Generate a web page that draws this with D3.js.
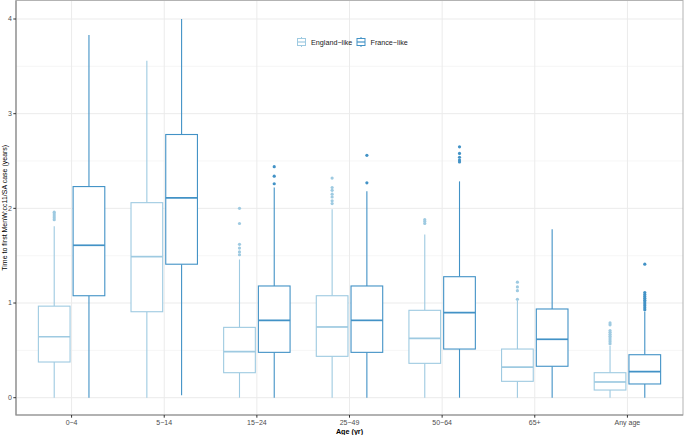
<!DOCTYPE html>
<html>
<head>
<meta charset="utf-8">
<script src="https://cdn.jsdelivr.net/npm/d3@7"></script>
<style>
  body { margin: 0; background: #fff; }
  text { font-family: "Liberation Sans", Arial, sans-serif; }
</style>
</head>
<body>
<div id="chart"></div>
<script>
const width = 685, height = 435

const ages = ["0\u22124", "5\u221214", "15\u221224", "25\u221249", "50\u221264", "65+", "Any age"]
const groups = ["England\u2212like", "France\u2212like"]
const yTicks = [0, 1, 2, 3, 4]

// England-like boxes (years)
const engLow = [0, 0, 0, 0, 0, 0, 0]
const engQ1 = [0.377, 0.908, 0.264, 0.437, 0.363, 0.173, 0.081]
const engMed = [0.644, 1.49, 0.486, 0.747, 0.627, 0.324, 0.166]
const engQ3 = [0.967, 2.06, 0.743, 1.077, 0.923, 0.514, 0.264]
const engHigh = [1.81, 3.56, 1.46, 1.99, 1.725, 1.03, 0.55]
const engOut = [
    [1.88, 1.90, 1.92, 1.94, 1.96],
    [],
    [1.51, 1.54, 1.58, 1.62, 1.84, 2.0],
    [2.05, 2.08, 2.12, 2.15, 2.19, 2.22, 2.32],
    [1.84, 1.86, 1.88],
    [1.04, 1.13, 1.17, 1.22],
    [0.57, 0.59, 0.61, 0.63, 0.65, 0.67, 0.69, 0.71, 0.77, 0.79]
]

// France-like boxes (years)
const fraLow = [0, 0.025, 0, 0, 0, 0, 0]
const fraQ1 = [1.077, 1.41, 0.479, 0.479, 0.514, 0.332, 0.145]
const fraMed = [1.61, 2.11, 0.817, 0.817, 0.898, 0.617, 0.275]
const fraQ3 = [2.23, 2.78, 1.18, 1.18, 1.278, 0.937, 0.454]
const fraHigh = [3.83, 4.0, 2.22, 2.18, 2.285, 1.778, 0.91]
const fraOut = [
    [],
    [],
    [2.26, 2.34, 2.44],
    [2.27, 2.56],
    [2.49, 2.51, 2.54, 2.58, 2.65],
    [],
    [0.93, 0.95, 0.97, 0.99, 1.01, 1.03, 1.05, 1.07, 1.09, 1.11, 1.41]
]

const colors = d3.scaleOrdinal().domain(groups).range(["#9ecae1", "#4292c6"])

const panel = {left: 16, right: 683, top: 0.5, bottom: 415}

const x = d3.scalePoint().domain(ages).range([panel.left, panel.right]).padding(0.6)
const step = x.step()
const dodge = d3.scaleBand().domain(groups).range([-0.375 * step, 0.375 * step])
const boxW = 0.342 * step

const y = d3.scaleLinear().domain([0, 4]).range([397.7, 19])

const svg = d3.select("#chart").append("svg")
    .attr("width", width)
    .attr("height", height)

// grid
const grid = svg.append("g")
grid.selectAll("line.minor")
    .data([0.5, 1.5, 2.5, 3.5])
    .join("line")
    .attr("x1", panel.left).attr("x2", panel.right)
    .attr("y1", d => y(d)).attr("y2", d => y(d))
    .attr("stroke", "#f0f0f0").attr("stroke-width", 0.6)
grid.selectAll("line.majory")
    .data(yTicks)
    .join("line")
    .attr("x1", panel.left).attr("x2", panel.right)
    .attr("y1", d => y(d)).attr("y2", d => y(d))
    .attr("stroke", "#ebebeb").attr("stroke-width", 1)
grid.append("g").selectAll("line")
    .data(ages)
    .join("line")
    .attr("x1", d => x(d)).attr("x2", d => x(d))
    .attr("y1", panel.top).attr("y2", panel.bottom)
    .attr("stroke", "#ebebeb").attr("stroke-width", 1)

// build the box table from the arrays
let boxes = []
ages.forEach((a, i) => {
    boxes.push({age: a, group: groups[0], low: engLow[i], q1: engQ1[i], med: engMed[i], q3: engQ3[i], high: engHigh[i], out: engOut[i]})
    boxes.push({age: a, group: groups[1], low: fraLow[i], q1: fraQ1[i], med: fraMed[i], q3: fraQ3[i], high: fraHigh[i], out: fraOut[i]})
})
const cx = d => x(d.age) + dodge(d.group) + dodge.bandwidth() / 2

const bg = svg.append("g").selectAll("g")
    .data(boxes)
    .join("g")
    .attr("stroke", d => colors(d.group))
    .attr("fill", "none")

bg.append("line")
    .attr("x1", cx).attr("x2", cx)
    .attr("y1", d => y(d.q3)).attr("y2", d => y(d.high))
    .attr("stroke-width", 1.1)
bg.append("line")
    .attr("x1", cx).attr("x2", cx)
    .attr("y1", d => y(d.q1)).attr("y2", d => y(d.low))
    .attr("stroke-width", 1.1)
bg.append("rect")
    .attr("x", d => cx(d) - boxW / 2)
    .attr("width", boxW)
    .attr("y", d => y(d.q3))
    .attr("height", d => y(d.q1) - y(d.q3))
    .attr("fill", "#fff")
    .attr("stroke-width", 1.1)
bg.append("line")
    .attr("x1", d => cx(d) - boxW / 2).attr("x2", d => cx(d) + boxW / 2)
    .attr("y1", d => y(d.med)).attr("y2", d => y(d.med))
    .attr("stroke-width", 1.7)
bg.selectAll("circle")
    .data(d => d.out.map(v => ({v: v, d: d})))
    .join("circle")
    .attr("cx", o => cx(o.d))
    .attr("cy", o => y(o.v))
    .attr("r", 1.6)
    .attr("stroke", "none")
    .attr("fill", o => colors(o.d.group))

// panel border + axis lines
svg.append("rect")
    .attr("x", panel.left).attr("y", panel.top)
    .attr("width", panel.right - panel.left).attr("height", panel.bottom - panel.top)
    .attr("fill", "none").attr("stroke", "#b3b3b3").attr("stroke-width", 1)
svg.append("path")
    .attr("d", `M${panel.left},${panel.top}V${panel.bottom}H${panel.right}`)
    .attr("fill", "none").attr("stroke", "#8c8c8c").attr("stroke-width", 1.2)

// axes
const yAxis = svg.append("g")
yAxis.selectAll("line")
    .data(yTicks)
    .join("line")
    .attr("x1", panel.left - 2.7).attr("x2", panel.left)
    .attr("y1", d => y(d)).attr("y2", d => y(d))
    .attr("stroke", "#333")
yAxis.selectAll("text")
    .data(yTicks)
    .join("text")
    .attr("x", panel.left - 4)
    .attr("y", d => y(d))
    .attr("dy", "0.35em")
    .attr("text-anchor", "end")
    .attr("font-size", 7)
    .attr("fill", "#4d4d4d")
    .text(d => d)

const xAxis = svg.append("g")
xAxis.selectAll("line")
    .data(ages)
    .join("line")
    .attr("x1", d => x(d)).attr("x2", d => x(d))
    .attr("y1", panel.bottom).attr("y2", panel.bottom + 2.7)
    .attr("stroke", "#333")
xAxis.selectAll("text")
    .data(ages)
    .join("text")
    .attr("x", d => x(d))
    .attr("y", 425.3)
    .attr("text-anchor", "middle")
    .attr("font-size", 7)
    .attr("fill", "#4d4d4d")
    .text(d => d)

svg.append("text")
    .attr("x", (panel.left + panel.right) / 2)
    .attr("y", 434)
    .attr("text-anchor", "middle")
    .attr("font-size", 7.2)
    .attr("font-weight", "bold")
    .text("Age (yr)")

svg.append("text")
    .attr("transform", `translate(6.5,${(panel.top + panel.bottom) / 2}) rotate(-90)`)
    .attr("text-anchor", "middle")
    .attr("font-size", 7)
    .text("Time to first MenW:cc11/SA case (years)")

// legend
const legX = [297.5, 357]
const leg = svg.append("g").selectAll("g")
    .data(groups)
    .join("g")
    .attr("transform", (d, i) => `translate(${legX[i]},42)`)
leg.append("line")
    .attr("x1", 4).attr("x2", 4).attr("y1", -5).attr("y2", 5)
    .attr("stroke", d => colors(d)).attr("stroke-width", 1)
leg.append("rect")
    .attr("x", 0).attr("y", -3.5).attr("width", 8).attr("height", 7)
    .attr("fill", "#fff").attr("stroke", d => colors(d)).attr("stroke-width", 1)
leg.append("line")
    .attr("x1", 0).attr("x2", 8).attr("y1", 0).attr("y2", 0)
    .attr("stroke", d => colors(d)).attr("stroke-width", 1.2)
leg.append("text")
    .attr("x", 13.5)
    .attr("dy", "0.35em")
    .attr("font-size", 7.2)
    .attr("fill", "#1a1a1a")
    .text(d => d)
</script>
</body>
</html>
